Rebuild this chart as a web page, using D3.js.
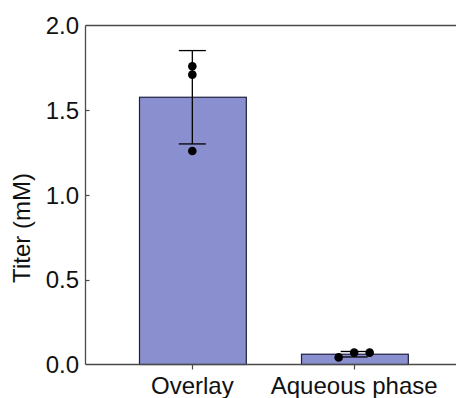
<!DOCTYPE html>
<html>
<head>
<meta charset="utf-8">
<script src="https://cdn.jsdelivr.net/npm/d3@7/dist/d3.min.js"></script>
<style>
  html, body { margin: 0; padding: 0; background: #fff; }
  svg { display: block; font-family: "Liberation Sans", Arial, sans-serif; }
</style>
</head>
<body>
<svg id="chart" width="456" height="398"></svg>
<script>
// Sample groups and their replicate titers (mM)
const categories = ["Overlay", "Aqueous phase"];
const overlayReplicates = [1.76, 1.71, 1.26];
const aqueousReplicates = [0.042, 0.07, 0.07];
const yTicks = [0.0, 0.5, 1.0, 1.5, 2.0];
const yLabel = "Titer (mM)";

const replicates = [overlayReplicates, aqueousReplicates];

const W = 456, H = 398;
const axisX = 85.5, plotTop = 25.5, plotBottom = 364.5;
const fontSize = 24;

const svg = d3.select("#chart");

const y = d3.scaleLinear().domain([0, 2]).range([plotBottom, plotTop]);
const x = d3.scaleBand()
  .domain(categories)
  .range([axisX, 461])
  .paddingInner(0.34)
  .paddingOuter(0.33);

const stats = categories.map((c, i) => ({
  cat: c,
  vals: replicates[i],
  mean: d3.mean(replicates[i]),
  sd: d3.deviation(replicates[i])
}));

// Bars
svg.append("g").selectAll("rect")
  .data(stats)
  .join("rect")
  .attr("x", d => Math.round(x(d.cat)) + 0.5)
  .attr("y", d => y(d.mean))
  .attr("width", x.bandwidth())
  .attr("height", d => plotBottom - y(d.mean))
  .attr("fill", "#8a8fcf")
  .attr("stroke", "#1f2040")
  .attr("stroke-width", 1.2);

// Error bars (mean ± SD)
const capW = 27;
const eb = svg.append("g").attr("stroke", "#000").attr("stroke-width", 1.3);
stats.forEach(d => {
  const cx = x(d.cat) + x.bandwidth() / 2;
  const hi = y(d.mean + d.sd), lo = y(d.mean - d.sd);
  eb.append("line").attr("x1", cx).attr("x2", cx).attr("y1", hi).attr("y2", lo);
  eb.append("line").attr("x1", cx - capW / 2).attr("x2", cx + capW / 2).attr("y1", hi).attr("y2", hi);
  eb.append("line").attr("x1", cx - capW / 2).attr("x2", cx + capW / 2).attr("y1", lo).attr("y2", lo);
});

// Replicate points, spread sideways when they would overlap
const r = 4.3, spread = 15.5, minGap = 6;
const pts = [];
stats.forEach(d => {
  const cx = x(d.cat) + x.bandwidth() / 2;
  const sorted = d.vals.slice().sort((a, b) => a - b);
  const clusters = [];
  sorted.forEach(v => {
    const last = clusters[clusters.length - 1];
    if (last && Math.abs(y(v) - y(last[last.length - 1])) < minGap) last.push(v);
    else clusters.push([v]);
  });
  clusters.forEach(cl => {
    cl.forEach((v, i) => pts.push({ x: cx + (i - (cl.length - 1) / 2) * spread, y: y(v) }));
  });
});
svg.append("g").selectAll("circle")
  .data(pts)
  .join("circle")
  .attr("cx", d => d.x)
  .attr("cy", d => d.y)
  .attr("r", r)
  .attr("fill", "#000");

// Frame lines: left axis, top line, baseline
const axisColor = "#4a4a4a";
svg.append("line").attr("x1", axisX).attr("x2", W).attr("y1", plotTop).attr("y2", plotTop)
  .attr("stroke", axisColor).attr("stroke-width", 1.3);
svg.append("line").attr("x1", axisX).attr("x2", W).attr("y1", plotBottom).attr("y2", plotBottom)
  .attr("stroke", axisColor).attr("stroke-width", 1.3);
svg.append("line").attr("x1", axisX).attr("x2", axisX).attr("y1", plotTop).attr("y2", plotBottom)
  .attr("stroke", axisColor).attr("stroke-width", 1.3);

// Y ticks (inward) and labels
const yg = svg.append("g");
yg.selectAll("line")
  .data(yTicks.filter(t => t > 0 && t < 2))
  .join("line")
  .attr("x1", axisX).attr("x2", axisX + 4)
  .attr("y1", d => Math.round(y(d)) + 0.5).attr("y2", d => Math.round(y(d)) + 0.5)
  .attr("stroke", axisColor).attr("stroke-width", 1.2);
yg.selectAll("text")
  .data(yTicks)
  .join("text")
  .attr("x", axisX - 6.5)
  .attr("y", d => y(d))
  .attr("dy", "0.36em")
  .attr("text-anchor", "end")
  .attr("font-size", fontSize)
  .attr("fill", "#111")
  .text(d => d3.format(".1f")(d));

// X ticks and category labels
const xg = svg.append("g");
xg.selectAll("line")
  .data(categories)
  .join("line")
  .attr("x1", d => Math.round(x(d) + x.bandwidth() / 2) + 0.5)
  .attr("x2", d => Math.round(x(d) + x.bandwidth() / 2) + 0.5)
  .attr("y1", plotBottom).attr("y2", plotBottom + 5)
  .attr("stroke", axisColor).attr("stroke-width", 1.2);
xg.selectAll("text")
  .data(categories)
  .join("text")
  .attr("x", d => x(d) + x.bandwidth() / 2)
  .attr("y", 394)
  .attr("text-anchor", "middle")
  .attr("font-size", fontSize)
  .attr("fill", "#111")
  .text(d => d);

// Y axis title
svg.append("text")
  .attr("transform", `translate(30,228) rotate(-90)`)
  .attr("text-anchor", "middle")
  .attr("font-size", fontSize)
  .attr("fill", "#111")
  .text(yLabel);
</script>
</body>
</html>
